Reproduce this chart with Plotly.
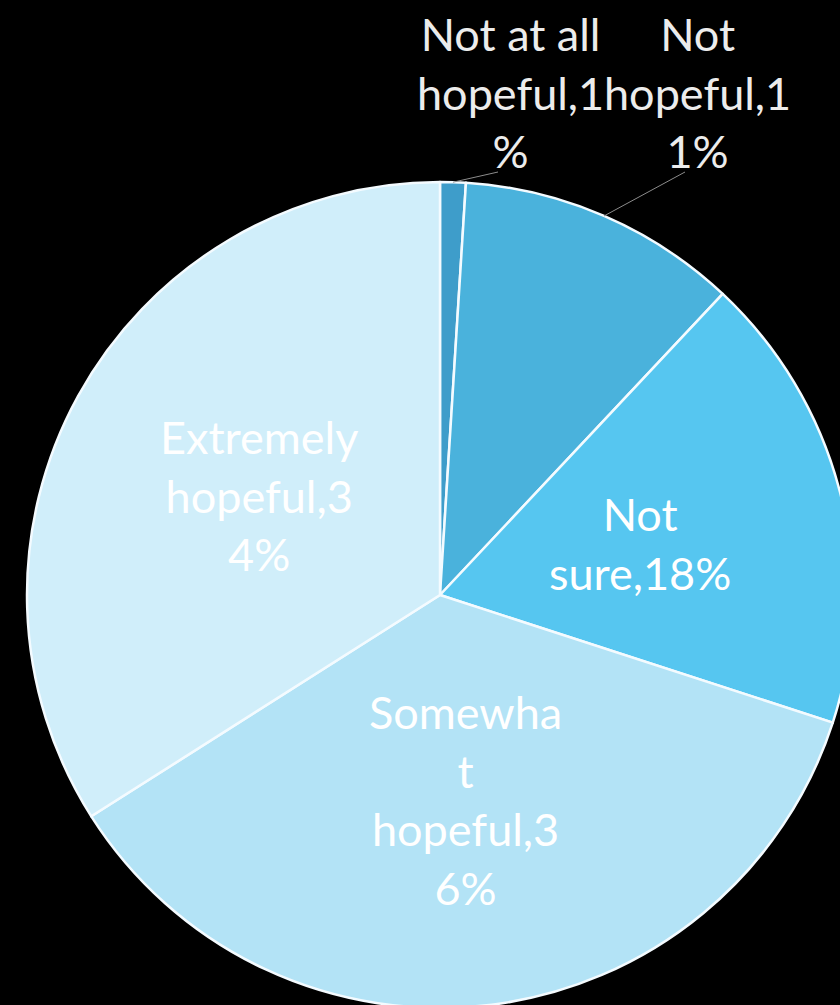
import math
import plotly.graph_objects as go

# Survey responses (percent of respondents)
labels = ["Not at all hopeful", "Not hopeful", "Not sure", "Somewhat hopeful", "Extremely hopeful"]
values = [1, 11, 18, 36, 34]
colors = ["#3e9dca", "#4ab2dc", "#56c6f0", "#b3e3f6", "#d0eefa"]

# Characters per wrapped line of each data label (the remainder goes on the last line)
line_lengths = [[10, 9], [3, 9], [3], [7, 1, 9], [9, 9]]
# Label placement: inside slices at a fraction of the radius, or outside with a leader line
inside = [False, False, True, True, True]

# Canvas and pie geometry in pixels
W, H = 880, 1020
CX, CY, R = 440, 595, 413
FONT = "Lato, 'Open Sans', sans-serif"


def wrap(text, lengths):
    lines, rest = [], text
    for n in lengths:
        rest = rest.lstrip()
        lines.append(rest[:n])
        rest = rest[n:]
    rest = rest.lstrip()
    if rest:
        lines.append(rest)
    return "<br>".join(lines)


def px(x, y):
    return x / W, 1 - y / H


fig = go.Figure(
    go.Pie(
        labels=labels,
        values=values,
        sort=False,
        direction="clockwise",
        rotation=0,
        marker=dict(colors=colors, line=dict(color="#f4fbff", width=2.5)),
        textinfo="none",
        hoverinfo="label+percent",
        showlegend=False,
        domain=dict(x=[(CX - R) / W, (CX + R) / W], y=[1 - (CY + R) / H, 1 - (CY - R) / H]),
    )
)

total = sum(values)
cum = 0
annotations, shapes = [], []
# Outside label centres (pixels) for the small slices
outside_pos = {0: (510, 92), 1: (697, 92)}
for i, (lab, v) in enumerate(zip(labels, values)):
    a0 = cum / total * 360
    cum += v
    a1 = cum / total * 360
    mid = math.radians((a0 + a1) / 2)
    text = wrap(f"{lab},{v}%", line_lengths[i])
    if inside[i]:
        r = 0.5 * R
        x, y = CX + r * math.sin(mid), CY - r * math.cos(mid)
        ax, ay = px(x, y)
        annotations.append(dict(x=ax, y=ay, xref="paper", yref="paper", text=text,
                                showarrow=False, xanchor="center", yanchor="middle",
                                font=dict(family=FONT, size=45, color="white")))
    else:
        lx, ly = outside_pos[i]
        ax, ay = px(lx, ly)
        annotations.append(dict(x=ax, y=ay, xref="paper", yref="paper", text=text,
                                showarrow=False, xanchor="center", yanchor="middle",
                                font=dict(family=FONT, size=45, color="#ececec")))
        # leader line from the slice edge to the bottom of the label
        ex, ey = CX + R * math.sin(mid), CY - R * math.cos(mid)
        x0, y0 = px(ex, ey)
        x1, y1 = px(lx - 12 + (i * 0), ly + 80)
        shapes.append(dict(type="line", xref="paper", yref="paper", x0=x0, y0=y0, x1=x1, y1=y1,
                           line=dict(color="#8c8c8c", width=1)))

fig.update_layout(
    width=W,
    height=H,
    autosize=False,
    margin=dict(l=0, r=0, t=0, b=0),
    paper_bgcolor="black",
    plot_bgcolor="black",
    annotations=annotations,
    shapes=shapes,
)

fig.write_html(
    "out.html",
    post_script="document.documentElement.style.overflow='hidden';document.body.style.overflow='hidden';document.body.style.margin='0';document.body.style.background='black';",
)
